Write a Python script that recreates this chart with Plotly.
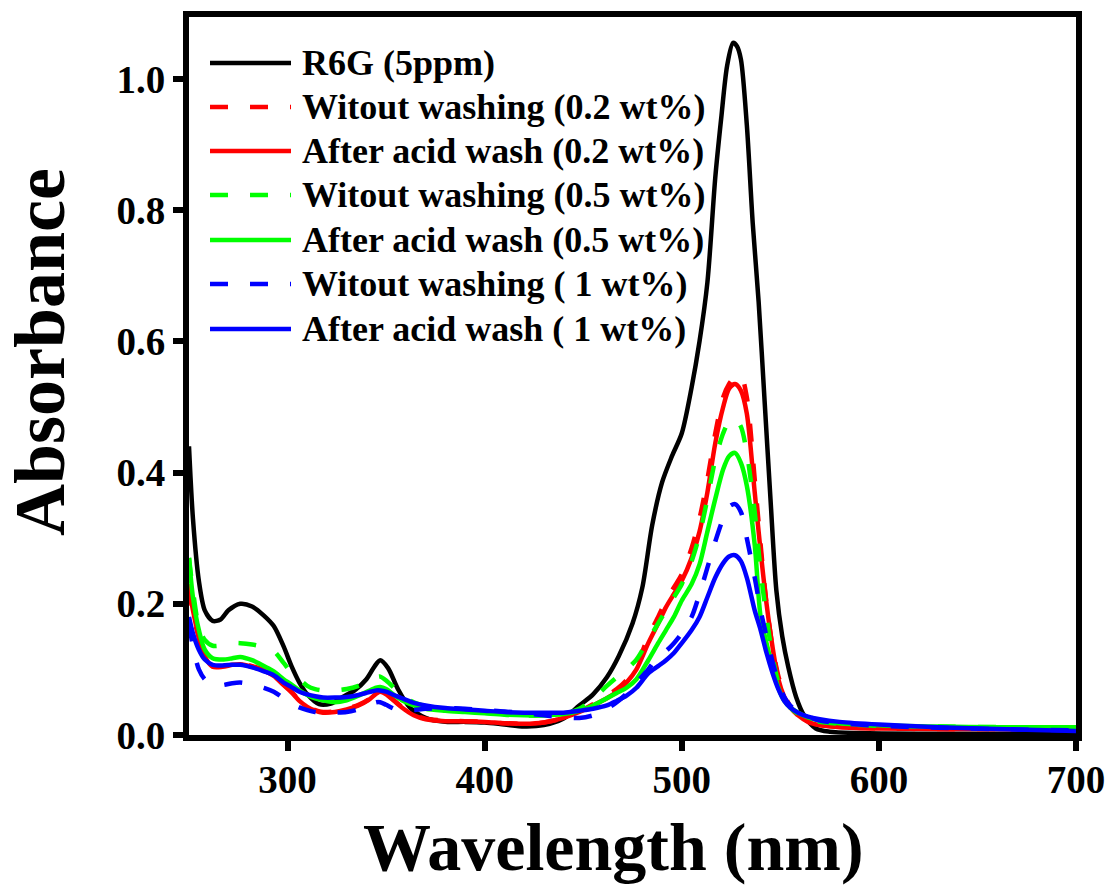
import plotly.graph_objects as go

# ---------------- data ----------------
wl_r6g = [250,252,255,258,262,266,270,276,282,288,293,298,302,306,310,316,322,328,334,340,
          344,347,351,356,362,370,380,390,400,410,420,430,440,448,455,462,468,475,480,485,
          490,495,500,505,509,513,517,520,523,526,528,530,533,536,539,542,545,548,551,554,
          558,562,568,575,590,620,660,700]
abs_r6g = [0.44,0.33,0.235,0.19,0.174,
           0.176,0.19,0.2,0.196,0.182,
           0.166,0.135,0.105,0.08,0.062,
           0.047,0.048,0.058,0.068,0.085,
           0.104,0.114,0.102,0.07,0.042,
           0.026,0.02,0.02,0.019,0.016,
           0.013,0.015,0.025,0.045,0.062,
           0.088,0.12,0.17,0.225,0.32,
           0.385,0.425,0.46,0.53,0.6,
           0.69,0.85,0.94,1.02,1.055,
           1.05,1.03,0.93,0.78,0.66,
           0.51,0.36,0.22,0.15,0.104,
           0.058,0.03,0.01,0.005,0.003,
           0.002,0.002,0.002]

wl = [250,252,255,258,262,267,272,276,282,288,293,298,302,306,310,314,318,324,330,336,
      341,345,347,350,354,358,364,370,380,390,400,410,420,430,440,448,455,462,467,472,
      477,483,488,492,496,500,505,509,513,517,521,524,527,530,533,537,540,543,546,549,
      552,555,559,564,570,580,600,630,660,700]

wo_02 = [0.225,0.185,0.148,0.12,0.105,
         0.105,0.108,0.109,0.105,0.099,
         0.091,0.077,0.066,0.053,0.044,
         0.038,0.035,0.036,0.04,0.046,
         0.054,0.064,0.067,0.063,0.053,
         0.043,0.031,0.025,0.022,0.021,
         0.02,0.018,0.017,0.019,0.026,
         0.036,0.047,0.06,0.07,0.084,
         0.106,0.15,0.18,0.205,0.225,
         0.245,0.285,0.33,0.39,0.46,
         0.515,0.535,0.546,0.548,0.515,
         0.39,0.29,0.2,0.135,0.09,
         0.062,0.044,0.03,0.02,0.015,
         0.012,0.01,0.009,0.009,0.008]
acid_02 = [0.23,0.19,0.15,0.12,0.104,
           0.104,0.107,0.108,0.104,0.098,
           0.09,0.076,0.065,0.052,0.043,
           0.037,0.034,0.035,0.039,0.045,
           0.053,0.063,0.066,0.062,0.052,
           0.042,0.03,0.024,0.021,0.021,
           0.02,0.018,0.017,0.019,0.026,
           0.035,0.045,0.056,0.066,0.08,
           0.1,0.14,0.17,0.195,0.215,
           0.235,0.27,0.31,0.37,0.445,
           0.5,0.528,0.535,0.525,0.49,
           0.37,0.28,0.2,0.135,0.085,
           0.058,0.042,0.03,0.02,0.015,
           0.012,0.01,0.009,0.009,0.008]
wo_05 = [0.27,0.22,0.165,0.145,0.136,
         0.137,0.14,0.14,0.138,0.134,
         0.128,0.11,0.095,0.085,0.075,
         0.07,0.068,0.068,0.07,0.075,
         0.082,0.088,0.089,0.083,0.072,
         0.06,0.05,0.044,0.04,0.037,
         0.035,0.032,0.03,0.03,0.032,
         0.04,0.055,0.075,0.088,0.1,
         0.115,0.145,0.17,0.19,0.21,
         0.23,0.265,0.305,0.36,0.42,
         0.46,0.478,0.482,0.47,0.43,
         0.34,0.25,0.18,0.12,0.08,
         0.056,0.042,0.032,0.025,0.02,
         0.017,0.014,0.013,0.012,0.011]
acid_05 = [0.27,0.21,0.16,0.13,0.117,
           0.115,0.117,0.119,0.114,0.105,
           0.097,0.085,0.077,0.068,0.061,
           0.056,0.053,0.05,0.053,0.06,
           0.067,0.072,0.073,0.07,0.061,
           0.053,0.045,0.04,0.037,0.035,
           0.033,0.031,0.03,0.03,0.032,
           0.037,0.045,0.056,0.064,0.072,
           0.085,0.114,0.14,0.16,0.18,
           0.205,0.23,0.26,0.31,0.36,
           0.405,0.425,0.43,0.415,0.38,
           0.29,0.18,0.14,0.104,0.072,
           0.052,0.042,0.034,0.027,0.022,
           0.018,0.015,0.013,0.012,0.012]
wo_1 = [0.17,0.135,0.1,0.085,0.077,
        0.076,0.079,0.08,0.077,0.072,
        0.066,0.056,0.048,0.042,0.038,
        0.035,0.034,0.034,0.035,0.039,
        0.045,0.05,0.05,0.046,0.04,
        0.037,0.038,0.04,0.041,0.04,
        0.038,0.036,0.033,0.03,0.027,
        0.026,0.03,0.04,0.05,0.063,
        0.08,0.1,0.12,0.128,0.14,
        0.155,0.18,0.215,0.255,0.295,
        0.33,0.348,0.352,0.34,0.3,
        0.24,0.19,0.15,0.112,0.08,
        0.058,0.045,0.035,0.028,0.022,
        0.018,0.014,0.011,0.009,0.007]
acid_1 = [0.18,0.155,0.13,0.115,0.107,
          0.106,0.107,0.107,0.103,0.097,
          0.091,0.08,0.073,0.066,0.062,
          0.059,0.057,0.057,0.058,0.061,
          0.065,0.068,0.068,0.066,0.061,
          0.056,0.049,0.045,0.041,0.039,
          0.037,0.035,0.034,0.034,0.034,
          0.037,0.04,0.045,0.052,0.06,
          0.072,0.094,0.105,0.114,0.125,
          0.14,0.16,0.18,0.21,0.24,
          0.262,0.272,0.274,0.265,0.24,
          0.19,0.16,0.125,0.095,0.07,
          0.052,0.042,0.034,0.028,0.024,
          0.02,0.016,0.012,0.009,0.006]

labels = ["R6G (5ppm)", "Witout washing (0.2 wt%)", "After acid wash (0.2 wt%)",
          "Witout washing (0.5 wt%)", "After acid wash (0.5 wt%)",
          "Witout washing ( 1 wt%)", "After acid wash ( 1 wt%)"]
colors = ["#000000", "#ff0000", "#ff0000", "#00ff00", "#00ff00", "#0000ff", "#0000ff"]
dashes = ["solid", "18px,22px", "solid", "18px,22px", "solid", "18px,22px", "solid"]
xs = [wl_r6g, wl, wl, wl, wl, wl, wl]
ys = [abs_r6g, wo_02, acid_02, wo_05, acid_05, wo_1, acid_1]

x_ticks = [300, 400, 500, 600, 700]
y_ticks = [0.0, 0.2, 0.4, 0.6, 0.8, 1.0]

# ---------------- layout geometry ----------------
W, H = 1115, 888
L, R_EDGE, T, B_EDGE = 189, 1076, 17, 735
def px2x(px):
    return (px - L) / (R_EDGE - L)
def py2y(py):
    return (B_EDGE - py) / (B_EDGE - T)

FONT = "Liberation Serif"

fig = go.Figure()
for x, y, lab, c, d in zip(xs, ys, labels, colors, dashes):
    fig.add_trace(go.Scatter(x=x, y=y, mode="lines", name=lab, showlegend=False,
                             line=dict(color=c, width=4.5, dash=d, shape="spline", smoothing=0.8)))

# manual legend
row_y = [63, 107, 151, 195, 240, 284, 329]
shapes = []
annotations = []
for ry, lab, c, d in zip(row_y, labels, colors, dashes):
    shapes.append(dict(type="line", xref="paper", yref="paper",
                       x0=px2x(210), x1=px2x(291), y0=py2y(ry), y1=py2y(ry),
                       line=dict(color=c, width=4.5, dash=d)))
    annotations.append(dict(xref="paper", yref="paper", x=px2x(300), y=py2y(ry),
                            xanchor="left", yanchor="middle", showarrow=False, text=lab,
                            font=dict(family=FONT, size=36, color="black", weight="bold")))

annotations.append(dict(xref="paper", yref="paper", x=px2x(613), y=py2y(847),
                        xanchor="center", yanchor="middle", showarrow=False,
                        text="Wavelength (nm)",
                        font=dict(family=FONT, size=68, color="black", weight="bold")))
annotations.append(dict(xref="paper", yref="paper", x=px2x(40), y=py2y(352),
                        xanchor="center", yanchor="middle", showarrow=False,
                        text="Absorbance", textangle=-90,
                        font=dict(family=FONT, size=72, color="black", weight="bold")))

axis_common = dict(showline=True, linewidth=6, linecolor="black", mirror=True,
                   ticks="outside", ticklen=10, tickwidth=6, tickcolor="black",
                   showgrid=False, zeroline=False,
                   tickfont=dict(family=FONT, size=39, color="black", weight="bold"))

fig.update_layout(
    width=W, height=H,
    margin=dict(l=L, r=W - R_EDGE, t=T, b=H - B_EDGE, autoexpand=False),
    paper_bgcolor="white", plot_bgcolor="white",
    xaxis=dict(range=[250, 700], tickvals=x_ticks, **axis_common),
    yaxis=dict(range=[0, (B_EDGE - T) / 656], tickvals=y_ticks,
               ticktext=[f"{v:.1f}" for v in y_ticks], **axis_common),
    shapes=shapes, annotations=annotations,
    showlegend=False,
)
fig.update_xaxes(ticklabelstandoff=-5)

fig.write_html("out.html",
               config={"displayModeBar": False},
               post_script="document.body.style.margin='0';document.body.style.overflow='hidden';")
